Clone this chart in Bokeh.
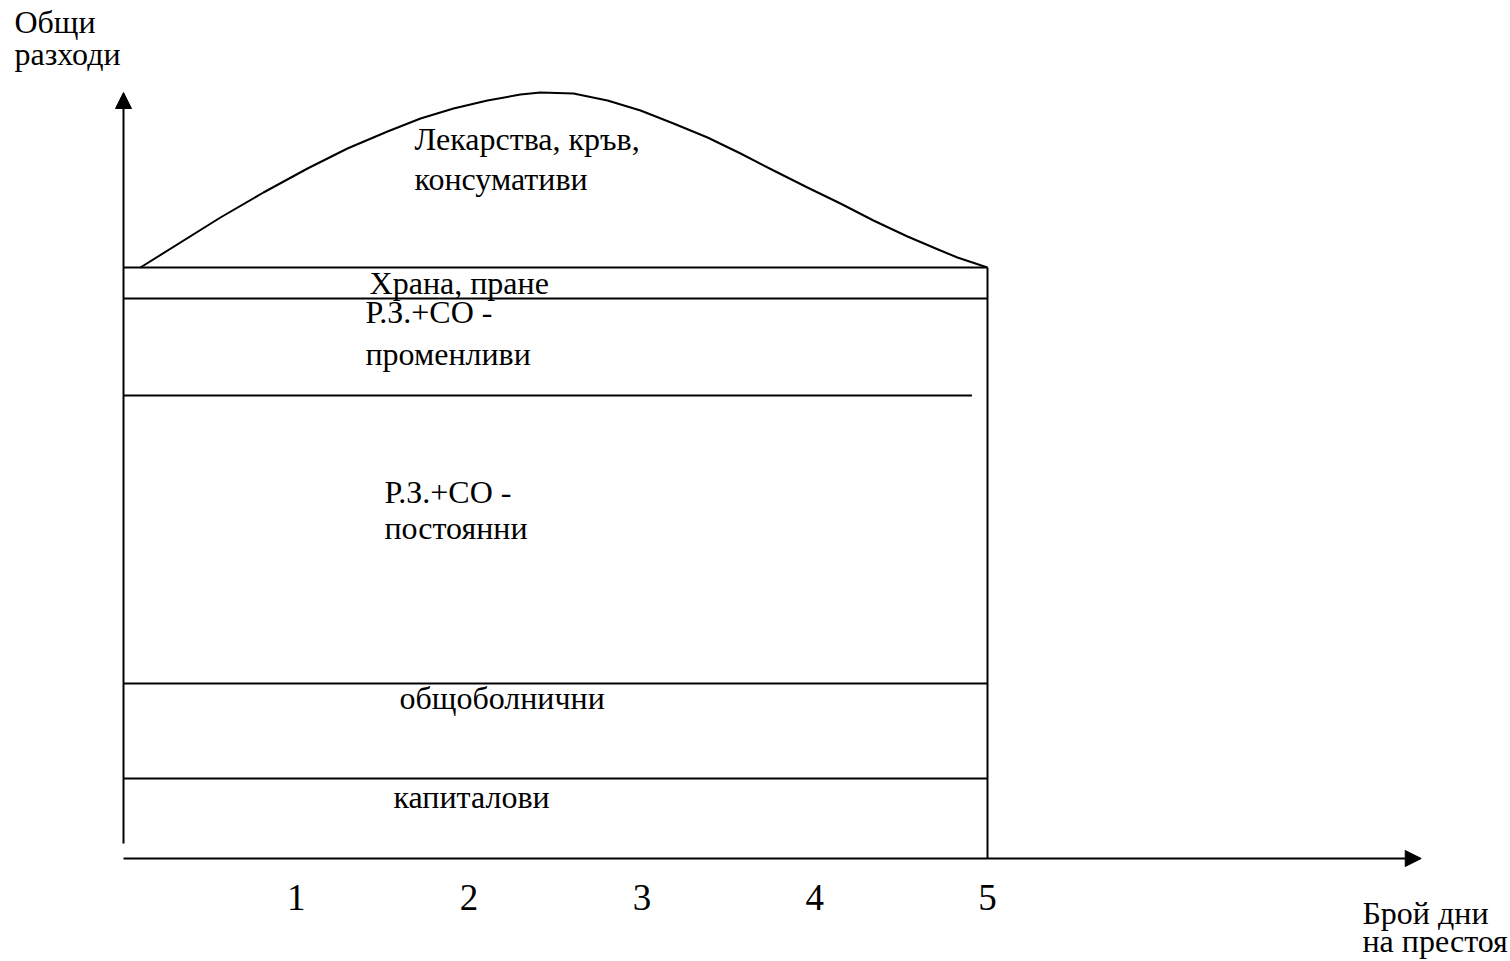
from bokeh.plotting import figure
from bokeh.models import Arrow, NormalHead, Range1d
from bokeh.core.properties import value
from bokeh.embed import file_html
from bokeh.resources import INLINE

# ---- data (days on x, cost units on y) ----
tick_days = [1, 2, 3, 4, 5]
tick_labels = ["1", "2", "3", "4", "5"]

# cumulative cost levels of the stacked layers (top boundaries)
layer_names = ["капиталови", "общоболнични", "Р.З.+СО - постоянни",
               "Р.З.+СО - променливи", "Храна, пране"]
layer_tops = [8.0, 17.5, 46.3, 56.0, 59.1]
layer_ends = [5.0, 5.0, 4.91, 5.0, 5.0]
stay_days = 5.0

# curve of drugs/blood/consumables on top of the layers
curve_days = [0.098, 0.561, 0.810, 1.065, 1.296, 1.528, 1.719, 1.910, 2.106,
              2.297, 2.413, 2.604, 2.801, 2.992, 3.183, 3.380, 3.571, 3.762,
              3.958, 4.149, 4.340, 4.537, 4.728, 4.826, 5.000]
curve_cost = [59.1, 64.1, 66.6, 69.0, 71.0, 72.7, 74.0, 75.0, 75.8,
              76.4, 76.6, 76.5, 75.8, 74.8, 73.5, 72.1, 70.5, 68.8,
              67.1, 65.5, 63.8, 62.2, 60.8, 60.1, 59.1]

# axis extents
y_axis_span = [1.5, 76.6]
x_axis_span = [0.0, 7.51]

# ---- text labels ----
label_texts = ["Лекарства, кръв,", "консумативи", "Храна, пране",
               "Р.З.+СО -", "променливи", "Р.З.+СО -", "постоянни",
               "общоболнични", "капиталови",
               "Общи", "разходи", "Брой дни", "на престоя"]
label_x = [1.684, 1.684, 1.424, 1.400, 1.400, 1.510, 1.510, 1.597, 1.5625,
           -0.631, -0.631, 7.170, 7.170]
label_y = [72.0, 68.0, 57.6, 54.7, 50.5, 36.7, 33.1, 16.1, 6.2,
           83.7, 80.5, -5.4, -8.2]

FONT = value("Liberation Serif")

p = figure(width=1510, height=961, output_backend="svg", toolbar_location=None,
           x_axis_type=None, y_axis_type=None,
           x_range=Range1d(-0.7118, 8.0266), y_range=Range1d(-10.3, 85.8),
           min_border=0, outline_line_color=None)
p.grid.visible = False
p.background_fill_color = "white"

# horizontal layer boundaries
for top, end in zip(layer_tops, layer_ends):
    p.line([0, end], [top, top], line_color="black", line_width=2)

# right border of the stay
p.line([stay_days, stay_days], [0, layer_tops[-1]], line_color="black", line_width=2)

# curve
p.line(curve_days, curve_cost, line_color="black", line_width=2)

# axes with arrows
p.add_layout(Arrow(end=NormalHead(size=16, fill_color="black", line_color="black"),
                   x_start=0, y_start=y_axis_span[0], x_end=0, y_end=y_axis_span[1],
                   line_color="black", line_width=2))
p.add_layout(Arrow(end=NormalHead(size=16, fill_color="black", line_color="black"),
                   x_start=x_axis_span[0], y_start=0, x_end=x_axis_span[1], y_end=0,
                   line_color="black", line_width=2))

# labels
p.text(x=label_x, y=label_y, text=label_texts, text_font=FONT,
       text_font_size="32px", text_color="black",
       text_align="left", text_baseline="middle")

# tick labels
p.text(x=tick_days, y=[-3.9] * len(tick_days), text=tick_labels, text_font=FONT,
       text_font_size="37px", text_color="black",
       text_align="center", text_baseline="middle")

open("out.html", "w").write(file_html(p, INLINE))
